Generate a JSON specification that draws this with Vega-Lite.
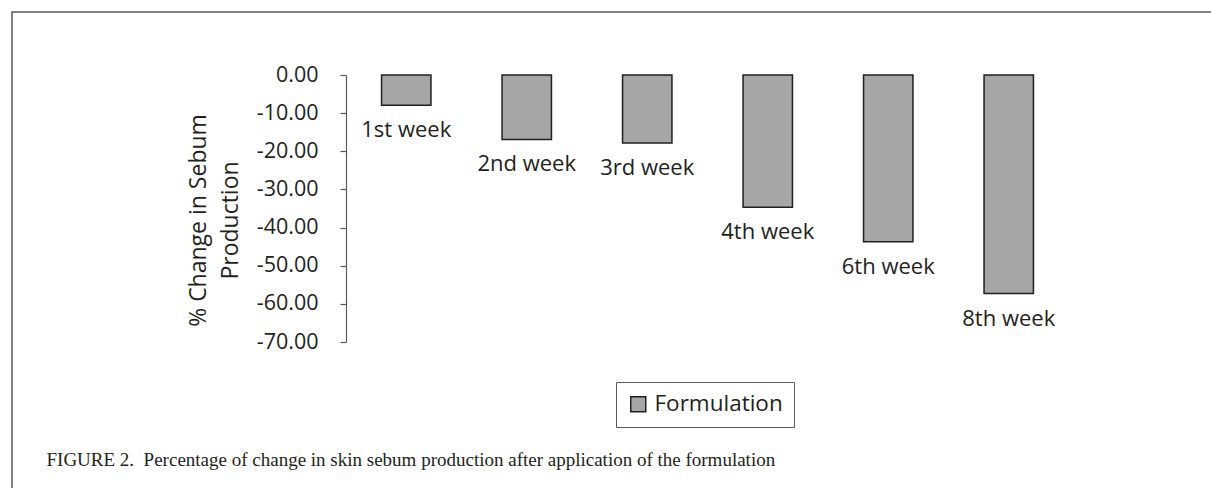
{
  "$schema": "https://vega.github.io/schema/vega-lite/v6.json",
  "width": 1201,
  "height": 478,
  "autosize": {"type": "none"},
  "padding": {"left": 12, "top": 12, "right": -2, "bottom": -2},
  "background": "white",
  "data": {
    "values": [
      {"week": "1st week", "change": -7.9, "series": "Formulation"},
      {"week": "2nd week", "change": -16.9, "series": "Formulation"},
      {"week": "3rd week", "change": -17.8, "series": "Formulation"},
      {"week": "4th week", "change": -34.7, "series": "Formulation"},
      {"week": "6th week", "change": -43.7, "series": "Formulation"},
      {"week": "8th week", "change": -57.3, "series": "Formulation"}
    ]
  },
  "config": {
    "view": {"stroke": "#5a5a5a", "strokeWidth": 1.5},
    "font": "Open Sans"
  },
  "layer": [
    {
      "mark": {"type": "bar", "stroke": "#231f20", "strokeWidth": 1.5},
      "encoding": {
        "x": {
          "field": "week",
          "type": "nominal",
          "sort": null,
          "scale": {"range": [334, 1057], "paddingInner": 0.59, "paddingOuter": 0.295},
          "axis": {
            "labels": false,
            "ticks": false,
            "domain": false,
            "grid": false,
            "title": "FIGURE 2.\u00a0 Percentage of change in skin sebum production after application of the formulation",
            "titleFont": "Liberation Serif",
            "titleFontSize": 19,
            "titleFontWeight": "normal",
            "titleColor": "#231f20",
            "titleX": 34,
            "titleY": -25,
            "titleAlign": "left",
            "titleAnchor": "start",
            "titleBaseline": "alphabetic"
          }
        },
        "y": {
          "field": "change",
          "type": "quantitative",
          "scale": {"domain": [-70, 0], "range": [330, 63], "nice": false},
          "axis": {
            "offset": -334,
            "values": [0, -10, -20, -30, -40, -50, -60, -70],
            "labelExpr": "replace(format(datum.value, '.2f'), '\u2212', '-')",
            "grid": false,
            "domainColor": "#5a5a5a",
            "domainWidth": 1.2,
            "tickColor": "#5a5a5a",
            "tickWidth": 1.2,
            "tickSize": 6,
            "labelPadding": 22,
            "labelFontSize": 21.5,
            "labelColor": "#231f20",
            "title": ["% Change in Sebum", "Production"],
            "titleFontSize": 23,
            "titleFontWeight": "normal",
            "titleColor": "#231f20",
            "titleX": -148,
            "titleY": 208,
            "titleAngle": -90,
            "titleAlign": "center",
            "titleBaseline": "middle",
            "titleLineHeight": 32
          }
        },
        "color": {
          "field": "series",
          "type": "nominal",
          "scale": {"range": ["#a6a6a6"]},
          "legend": {
            "orient": "none",
            "legendX": 604,
            "legendY": 370,
            "title": null,
            "strokeColor": "#5a5a5a",
            "fillColor": "white",
            "padding": 11,
            "symbolType": "square",
            "symbolSize": 225,
            "symbolStrokeColor": "#231f20",
            "symbolStrokeWidth": 1.5,
            "symbolOpacity": 1,
            "labelFontSize": 22.5,
            "labelColor": "#231f20",
            "labelOffset": 5
          }
        }
      }
    },
    {
      "mark": {"type": "text", "dy": 25, "baseline": "middle", "align": "center", "fontSize": 22, "color": "#231f20"},
      "encoding": {
        "x": {"field": "week", "type": "nominal", "sort": null},
        "y": {"field": "change", "type": "quantitative"},
        "text": {"field": "week"}
      }
    }
  ]
}
